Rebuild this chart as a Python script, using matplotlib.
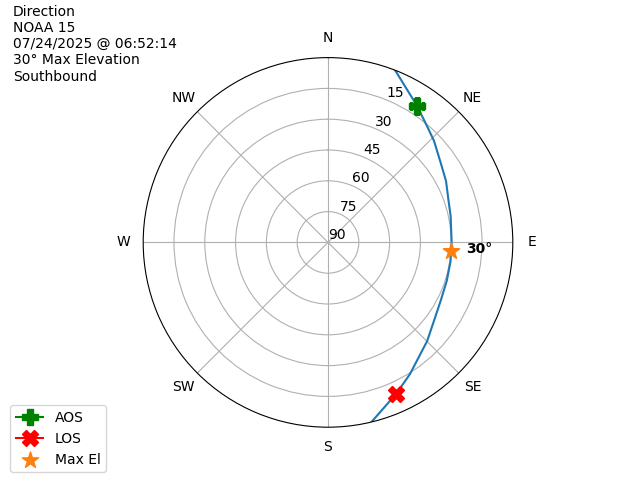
import numpy as np
import matplotlib
matplotlib.use('Agg')
import matplotlib.pyplot as plt

# pass track (azimuth deg, elevation deg)
track_az = [21.3, 33.1, 41.1, 46.2, 54.0, 62.5, 71.0, 77.8, 89.8, 94.2, 98.6,
            108.0, 117.4, 126.5, 134.8, 148.2, 155.8, 166.4]
track_el = [0, 10.6, 16.0, 18.5, 22.5, 25.2, 27.9, 28.9, 29.8, 30, 29.6,
            29.2, 28.2, 25.8, 21.9, 14.4, 9.1, 0]

aos_az, aos_el = 33.1, 10.6
los_az, los_el = 155.8, 9.1
max_az, max_el = 94.2, 30

dirs = ['N', 'NE', 'E', 'SE', 'S', 'SW', 'W', 'NW']
rticks = [15, 30, 45, 60, 75, 90]

info = "Direction\nNOAA 15\n07/24/2025 @ 06:52:14\n30° Max Elevation\nSouthbound"

fig = plt.figure(figsize=(6.4, 4.8), dpi=100)
ax = fig.add_subplot(111, projection='polar')
ax.set_theta_zero_location('N')
ax.set_theta_direction(-1)

ax.plot(np.radians(track_az), track_el)
ax.plot(np.radians(aos_az), aos_el, marker='P', color='green', markersize=12, label='AOS')
ax.plot(np.radians(los_az), los_el, marker='X', color='red', markersize=12, label='LOS')
ax.scatter(np.radians(max_az), max_el, marker='*', color='C1', s=150, zorder=3, label='Max El')
ax.annotate(f"{max_el}°", (np.radians(max_az), max_el), xytext=(11, 2),
            textcoords='offset points', va='center', fontweight='bold')

ax.set_ylim(90, 0)
ax.set_yticks(rticks)
ax.set_yticklabels([str(t) for t in rticks])
ax.set_xticks(np.radians(np.arange(0, 360, 45)))
ax.set_xticklabels(dirs)

fig.text(0.02, 0.99, info, va='top', ha='left')
fig.legend(loc='lower left', bbox_to_anchor=(0.005, 0.002))

fig.savefig('out.png')
